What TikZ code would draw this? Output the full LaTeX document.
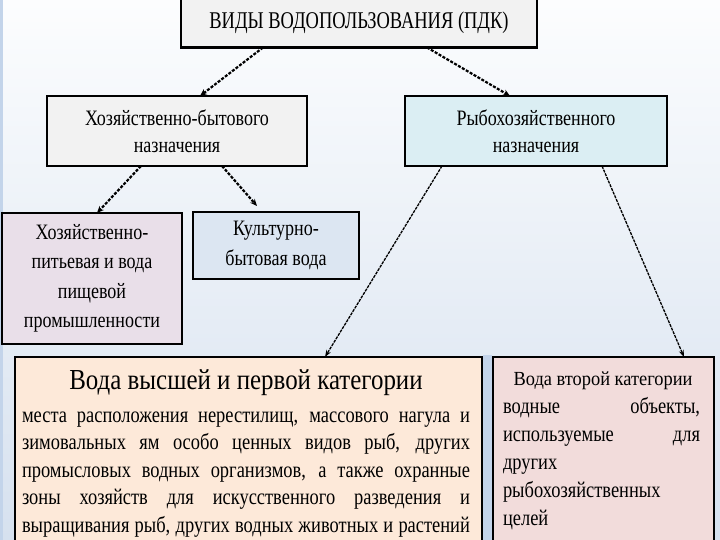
\documentclass[tikz,border=0pt]{standalone}
\usepackage{fontspec}
\setmainfont{Liberation Serif}[FakeStretch=0.82]
\newfontfamily\titlefont{Liberation Serif}[FakeStretch=0.77]
\newfontfamily\bigfont{Liberation Serif}[FakeStretch=0.86]
\newfontfamily\smalltitlefont{Liberation Serif}[FakeStretch=0.92]
\usetikzlibrary{arrows.meta}
\definecolor{bgtop}{HTML}{FCFDFE}
\definecolor{bgbot}{HTML}{D6E1EF}
\definecolor{edgeblue}{HTML}{C3D4EA}
\definecolor{grayfill}{HTML}{F2F2F2}
\definecolor{cyanfill}{HTML}{DBEEF3}
\definecolor{lavfill}{HTML}{E9DFE9}
\definecolor{bluefill}{HTML}{DCE6F2}
\definecolor{peachfill}{HTML}{FDE9D9}
\definecolor{pinkfill}{HTML}{F2DCDB}
\begin{document}
\begin{tikzpicture}[x=1pt,y=1pt,
  box/.style={draw=black,line width=2.6pt,rectangle,inner sep=0pt,outer sep=0pt,align=center,
    font=\fontsize{22}{27}\selectfont},
  txt/.style={inner sep=0pt,outer sep=0pt},
  conn/.style={line width=2.2pt,dash pattern=on 3pt off 1.5pt,-{Stealth[length=7pt,width=6pt]}},
  thinconn/.style={line width=1.3pt,dash pattern=on 3pt off 1pt,-{Stealth[length=7pt,width=5pt]}}]
\useasboundingbox (0,0) rectangle (720,540);
\shade[top color=bgtop,bottom color=bgbot] (0,0) rectangle (720,540);
\fill[edgeblue] (0,0) rectangle (3,540);
\fill[edgeblue] (483,0) rectangle (492,185);

\node[box,fill=grayfill,minimum width=356pt,minimum height=49pt,
  font=\titlefont\fontsize{24}{26}\selectfont] (top) at (359,517) {ВИДЫ ВОДОПОЛЬЗОВАНИЯ (ПДК)};

\node[box,fill=grayfill,minimum width=260pt,minimum height=70pt] (hb) at (177,409)
  {Хозяйственно-бытового\\назначения};
\node[box,fill=cyanfill,minimum width=262pt,minimum height=70pt] (rb) at (536,409)
  {Рыбохозяйственного\\назначения};

\node[box,fill=lavfill,minimum width=180pt,minimum height=131pt,
  font=\fontsize{22}{29.5}\selectfont] (hp) at (92,261.5)
  {Хозяйственно-\\питьевая и вода\\пищевой\\промышленности};
\node[box,fill=bluefill,minimum width=166pt,minimum height=67pt,
  font=\fontsize{22}{30}\selectfont] (kb) at (276,294.5)
  {Культурно-\\бытовая вода};

\node[box,fill=peachfill,minimum width=467pt,minimum height=195pt] (big) at (248.5,85.5) {};
\node[box,fill=pinkfill,minimum width=221pt,minimum height=195pt] (r2) at (603.5,85.5) {};

\node[txt,anchor=base,font=\bigfont\fontsize{29}{32}\selectfont] (bigtitle) at (246,150)
  {Вода высшей и первой категории};
\node[txt,anchor=north,align=left,font=\fontsize{22.5}{27.5}\selectfont] (bigbody) at (246,128.5)
  {\makebox[448pt][s]{места расположения нерестилищ, массового нагула и}\\
   \makebox[448pt][s]{зимовальных ям особо ценных видов рыб, других}\\
   \makebox[448pt][s]{промысловых водных организмов, а также охранные}\\
   \makebox[448pt][s]{зоны хозяйств для искусственного разведения и}\\
   \makebox[448pt][s]{выращивания рыб, других водных животных и растений}};

\node[txt,anchor=base,font=\smalltitlefont\fontsize{20}{22}\selectfont] (r2title) at (603,154)
  {Вода второй категории};
\node[txt,anchor=north,align=left,font=\fontsize{22.5}{28}\selectfont] (r2body) at (601.5,143)
  {\makebox[197pt][s]{водные объекты,}\\
   \makebox[197pt][s]{используемые для}\\
   других\\
   рыбохозяйственных\\
   целей};

\draw[conn] ([xshift=82pt]top.south west) -- ([xshift=153pt]hb.north west);
\draw[conn] ([xshift=246pt]top.south west) -- ([xshift=105pt]rb.north west);
\draw[conn] ([xshift=94pt]hb.south west) -- ([xshift=95pt]hp.north west);
\draw[conn] ([xshift=175pt]hb.south west) -- ([xshift=64pt,yshift=6pt]kb.north west);
\draw[thinconn] ([xshift=37pt]rb.south west) -- ([xshift=310pt]big.north west);
\draw[thinconn] ([xshift=197pt]rb.south west) -- ([xshift=191pt]r2.north west);
\end{tikzpicture}
\end{document}
